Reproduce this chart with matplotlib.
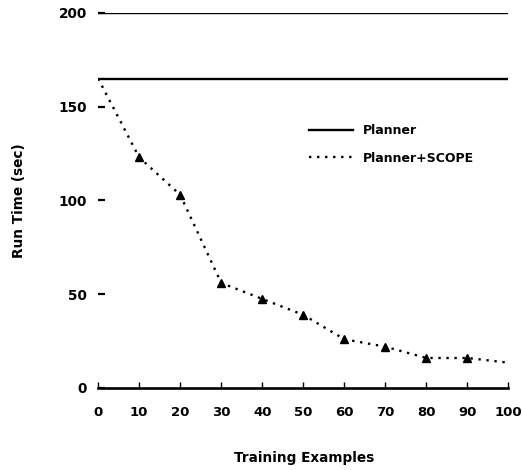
import numpy as np
import matplotlib
matplotlib.use("Agg")
import matplotlib.pyplot as plt

plt.rcParams["font.family"] = ["DejaVu Sans"]
plt.rcParams["font.weight"] = "bold"

# Data
examples = [0, 10, 20, 30, 40, 50, 60, 70, 80, 90, 100]
planner = [165] * len(examples)
scope = [165, 123, 103, 56, 47.5, 39, 26, 22, 16, 16, 13.5]

fig = plt.figure(figsize=(5.22, 4.70), dpi=100)
ax = fig.add_axes([0.188, 0.1745, 0.786, 0.798])

ax.plot(examples, planner, color="black", lw=1.7, label="Planner")
ax.plot(examples, scope, color="black", lw=1.7, ls=(0, (1, 2.4)), label="Planner+SCOPE")
ax.plot(examples[1:-1], scope[1:-1], ls="none", marker="^", ms=6, color="black")
ax.axhline(200, color="black", lw=1.7)

ax.set_xlim(0, 100)
ax.set_ylim(0, 200)
ax.set_xticks(examples)
ax.set_yticks([0, 50, 100, 150, 200])
ax.tick_params(axis="x", direction="in", length=4, width=1, labelsize=9.5, pad=13)
ax.tick_params(axis="y", direction="in", length=5, width=1.6, labelsize=9.8, pad=8)
for side in ["left", "right", "top"]:
    ax.spines[side].set_visible(False)
ax.spines["bottom"].set_linewidth(1.9)

ax.set_xlabel("Training Examples", fontsize=9.8, fontweight="bold", va="center")
ax.xaxis.set_label_coords(0.502, -0.187)
ax.set_ylabel("Run Time (sec)", fontsize=9.8, fontweight="bold", va="center")
ax.yaxis.set_label_coords(-0.192, 0.5)

ax.legend(loc="upper left", bbox_to_anchor=(0.515, 0.703), frameon=False, fontsize=9,
          handlelength=3.5, handletextpad=0.8, labelspacing=1.15,
          borderpad=0, borderaxespad=0)

fig.savefig("out.png", dpi=100)
